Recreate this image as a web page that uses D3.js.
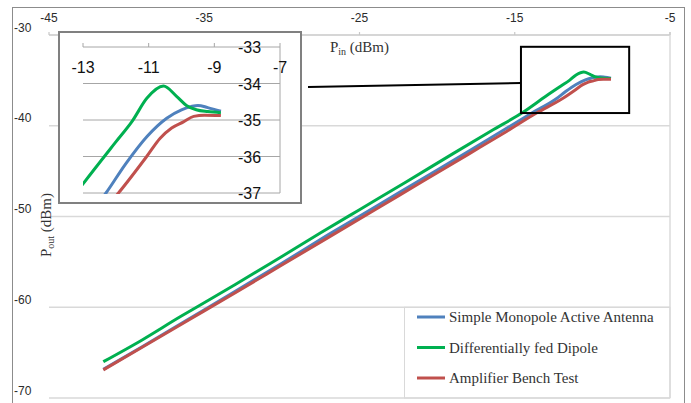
<!DOCTYPE html>
<html><head><meta charset="utf-8">
<script src="https://cdn.jsdelivr.net/npm/d3@7"></script>
<style>body{margin:0;background:#fff}svg{display:block}</style>
</head><body><svg id="c" width="691" height="403"></svg>
<script>
// ---- data ----
const xTicks = [-45, -35, -25, -15, -5];
const yTicks = [-30, -40, -50, -60, -70];
const insetXTicks = [-13, -11, -9, -7];
const insetYTicks = [-33, -34, -35, -36, -37];
const seriesNames = ["Simple Monopole Active Antenna", "Differentially fed Dipole", "Amplifier Bench Test"];
const seriesColors = ["#4F81BD", "#00B050", "#C0504D"];

const pinBlue  = [-41.5, -39, -36, -33, -30, -27, -24, -21, -18, -15.5, -13.9, -12.3, -11.7, -11.05, -10.45, -10.0, -9.7, -9.5, -9.2, -8.8];
const poutBlue = [-66.85, -64.35, -61.3, -58.25, -55.15, -52.0, -48.95, -45.9, -42.85, -40.25, -38.6, -37.0, -36.2, -35.45, -34.95, -34.72, -34.63, -34.6, -34.66, -34.76];

const pinGreen  = [-41.5, -39, -36.5, -35.5, -33, -30, -27.5, -25, -22, -19, -16.5, -14.5, -13, -12, -11.5, -11.05, -10.55, -10.15, -9.85, -9.55, -9.2, -8.8];
const poutGreen = [-66.0, -63.6, -61.0, -60.0, -57.5, -54.4, -51.8, -49.25, -46.2, -43.1, -40.55, -38.55, -36.75, -35.6, -35.03, -34.4, -34.07, -34.35, -34.6, -34.72, -34.77, -34.8];

const pinRed  = [-41.5, -39, -36, -33, -30, -27, -24, -21, -18, -15.5, -13.6, -11.92, -11.06, -10.65, -10.3, -9.94, -9.63, -9.3, -8.8];
const poutRed = [-66.9, -64.4, -61.4, -58.4, -55.35, -52.3, -49.25, -46.2, -43.15, -40.6, -38.6, -37.0, -36.0, -35.5, -35.22, -35.05, -34.9, -34.87, -34.88];

const zoomPin = [-14.6, -7.63];
const zoomPout = [-31.3, -38.6];

const series = [
  {name: seriesNames[0], color: seriesColors[0], pts: pinBlue.map((p, i) => [p, poutBlue[i]])},
  {name: seriesNames[1], color: seriesColors[1], pts: pinGreen.map((p, i) => [p, poutGreen[i]])},
  {name: seriesNames[2], color: seriesColors[2], pts: pinRed.map((p, i) => [p, poutRed[i]])}
];

// ---- drawing ----
const svg = d3.select("#c");
const sans = "'Liberation Sans', Arial, sans-serif";
const serif = "'Liberation Serif', 'Times New Roman', serif";

// outer frame
svg.append("rect").attr("x", 12.5).attr("y", 7.5).attr("width", 672).attr("height", 410)
  .attr("fill", "#fff").attr("stroke", "#8c8c8c").attr("stroke-width", 1);

const x = d3.scaleLinear().domain([-45, -5]).range([49, 670]);
const y = d3.scaleLinear().domain([-30, -70]).range([35, 398]);

// legend background (sits between gridlines)
const lg = svg.append("g");
lg.append("rect").attr("x", 404.5).attr("y", y(-60)).attr("width", x(-5) - 404.5).attr("height", y(-70) - y(-60))
  .attr("fill", "#fff").attr("stroke", "#d9d9d9").attr("stroke-width", 1);

// gridlines
svg.append("g").selectAll("line").data(yTicks).join("line")
  .attr("x1", x(-45)).attr("x2", x(-5))
  .attr("y1", d => y(d)).attr("y2", d => y(d))
  .attr("stroke", d => d === -30 ? "#c8c8c8" : "#d9d9d9").attr("stroke-width", 1.4);
svg.append("line").attr("x1", x(-5)).attr("x2", x(-5)).attr("y1", y(-30) - 3).attr("y2", y(-70))
  .attr("stroke", "#d9d9d9").attr("stroke-width", 1.4);

// top ticks
svg.append("g").selectAll("line").data(xTicks).join("line")
  .attr("x1", d => x(d)).attr("x2", d => x(d)).attr("y1", y(-30) - 3).attr("y2", y(-30))
  .attr("stroke", "#c8c8c8").attr("stroke-width", 1.2);

// tick labels
svg.append("g").selectAll("text").data(xTicks).join("text")
  .attr("x", d => x(d)).attr("y", 22).attr("text-anchor", "middle")
  .attr("font-family", sans).attr("font-size", 12).attr("fill", "#2b2b2b")
  .text(d => d);
svg.append("g").selectAll("text").data(yTicks).join("text")
  .attr("x", 14).attr("y", d => y(d) - 3.5).attr("text-anchor", "start")
  .attr("font-family", sans).attr("font-size", 12).attr("fill", "#2b2b2b")
  .text(d => d);

// axis titles
const xt = svg.append("text").attr("x", (x(-45) + x(-5)) / 2).attr("y", 52).attr("text-anchor", "middle")
  .attr("font-family", serif).attr("font-size", 15).attr("fill", "#333");
xt.append("tspan").text("P");
xt.append("tspan").attr("font-size", 10).attr("dy", 3).text("in");
xt.append("tspan").attr("dy", -3).text(" (dBm)");

const yt = svg.append("text").attr("transform", "translate(51,225) rotate(-90)").attr("text-anchor", "middle")
  .attr("font-family", serif).attr("font-size", 15).attr("fill", "#333");
yt.append("tspan").text("P");
yt.append("tspan").attr("font-size", 10).attr("dy", 3).text("out");
yt.append("tspan").attr("dy", -3).text(" (dBm)");

// main lines
const line = d3.line().x(d => x(d[0])).y(d => y(d[1])).curve(d3.curveMonotoneX);
svg.append("g").selectAll("path").data(series).join("path")
  .attr("d", d => line(d.pts)).attr("fill", "none")
  .attr("stroke", d => d.color).attr("stroke-width", 3).attr("stroke-linejoin", "round");

// zoom box
svg.append("rect").attr("x", x(zoomPin[0])).attr("y", y(zoomPout[0]))
  .attr("width", x(zoomPin[1]) - x(zoomPin[0])).attr("height", y(zoomPout[1]) - y(zoomPout[0]))
  .attr("fill", "none").attr("stroke", "#000").attr("stroke-width", 2);

// connector line
svg.append("line").attr("x1", 308).attr("y1", 87).attr("x2", x(zoomPin[0])).attr("y2", 83)
  .attr("stroke", "#000").attr("stroke-width", 2);

// legend entries
const le = lg.selectAll("g").data(series).join("g")
  .attr("transform", (d, i) => `translate(0,${317 + i * 30.5})`);
le.append("line").attr("x1", 417).attr("x2", 445).attr("y1", 0).attr("y2", 0)
  .attr("stroke", d => d.color).attr("stroke-width", 3);
le.append("text").attr("x", 449).attr("y", 5).attr("font-family", serif).attr("font-size", 15)
  .attr("fill", "#333").text(d => d.name);

// ---- inset ----
const ig = svg.append("g");
ig.append("rect").attr("x", 59).attr("y", 32).attr("width", 242).attr("height", 171)
  .attr("fill", "#fff").attr("stroke", "#808080").attr("stroke-width", 2);
const ix = d3.scaleLinear().domain([-13, -7]).range([83, 280]);
const iy = d3.scaleLinear().domain([-33, -37]).range([47, 193]);

ig.append("g").selectAll("line").data(insetYTicks).join("line")
  .attr("x1", ix(-13)).attr("x2", ix(-7)).attr("y1", d => iy(d)).attr("y2", d => iy(d))
  .attr("stroke", "#a6a6a6").attr("stroke-width", 1);
ig.append("line").attr("x1", ix(-7)).attr("x2", ix(-7)).attr("y1", iy(-33)).attr("y2", iy(-37))
  .attr("stroke", "#a6a6a6").attr("stroke-width", 1);
ig.append("g").selectAll("line").data(insetXTicks).join("line")
  .attr("x1", d => ix(d)).attr("x2", d => ix(d)).attr("y1", iy(-33) - 4).attr("y2", iy(-33))
  .attr("stroke", "#a6a6a6").attr("stroke-width", 1);

ig.append("clipPath").attr("id", "ic").append("rect")
  .attr("x", ix(-13)).attr("y", iy(-33)).attr("width", ix(-7) - ix(-13)).attr("height", iy(-37) - iy(-33) + 1);
const iline = d3.line().x(d => ix(d[0])).y(d => iy(d[1])).curve(d3.curveMonotoneX);
ig.append("g").attr("clip-path", "url(#ic)").selectAll("path").data(series).join("path")
  .attr("d", d => iline(d.pts)).attr("fill", "none")
  .attr("stroke", d => d.color).attr("stroke-width", 3).attr("stroke-linejoin", "round");

ig.append("g").selectAll("text").data(insetXTicks).join("text")
  .attr("x", d => ix(d)).attr("y", 73).attr("text-anchor", "middle")
  .attr("font-family", sans).attr("font-size", 16).attr("fill", "#111").text(d => d);
ig.append("g").selectAll("text").data(insetYTicks).join("text")
  .attr("x", 238).attr("y", d => iy(d) + 6).attr("text-anchor", "start")
  .attr("font-family", sans).attr("font-size", 16).attr("fill", "#111").text(d => d);
</script>
</body></html>
